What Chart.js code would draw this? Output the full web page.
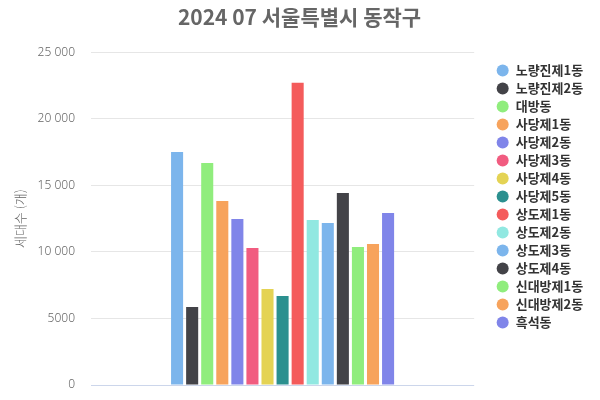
<!DOCTYPE html>
<html>
<head>
<meta charset="utf-8">
<script src="https://cdn.jsdelivr.net/npm/chart.js@4"></script>
<style>
html,body{margin:0;padding:0;background:#fff;}
#wrap{width:600px;height:400px;position:relative;}
</style>
</head>
<body>
<div id="wrap"><canvas id="c" width="600" height="400"></canvas></div>
<script>
const title = '2024 07 서울특별시 동작구';
const yAxisTitle = '세대수 (개)';
const categories = [''];
const seriesNames = ['노량진제1동','노량진제2동','대방동','사당제1동','사당제2동','사당제3동','사당제4동','사당제5동','상도제1동','상도제2동','상도제3동','상도제4동','신대방제1동','신대방제2동','흑석동'];
const seriesValues = [17510, 5860, 16680, 13830, 12470, 10300, 7210, 6690, 22700, 12400, 12170, 14430, 10370, 10600, 12930];
const palette = ['#7cb5ec','#434348','#90ed7d','#f7a35c','#8085e9','#f15c80','#e4d354','#2b908f','#f45b5b','#91e8e1'];
const yTicks = [0, 5000, 10000, 15000, 20000, 25000];

const FONT = "'Noto Sans CJK KR', 'Noto Sans', sans-serif";
Chart.defaults.font.family = FONT;

function fmt(v){
  if (Math.abs(v) < 10000) return String(v);
  return String(v).replace(/\B(?=(\d{3})+(?!\d))/g, ' ');
}

const datasets = seriesNames.map((name, i) => ({
  label: name,
  data: [seriesValues[i]],
  backgroundColor: palette[i % palette.length],
  borderWidth: 0,
  categoryPercentage: 0.59,
  barPercentage: 0.8,
  yAxisID: 'y'
}));

new Chart(document.getElementById('c'), {
  type: 'bar',
  data: { labels: categories, datasets },
  options: {
    responsive: false,
    animation: false,
    devicePixelRatio: 1,
    layout: { padding: { left: 12, right: 13, top: 0, bottom: 15 } },
    plugins: {
      title: {
        display: true,
        text: title,
        color: '#666666',
        font: { size: 21, weight: 'bold', family: FONT },
        padding: { top: 4, bottom: 23 }
      },
      legend: {
        position: 'right',
        align: 'center',
        title: {
          display: true,
          text: ' ',
          font: { size: 5 },
          padding: { top: 1, bottom: 1 }
        },
        labels: {
          usePointStyle: true,
          pointStyle: 'circle',
          boxWidth: 13,
          boxHeight: 8.5,
          padding: 5,
          color: '#333333',
          font: { size: 13, weight: 'bold', family: FONT }
        }
      },
      tooltip: { enabled: false }
    },
    scales: {
      x: {
        display: false,
        grid: { display: false }
      },
      y: {
        min: 0,
        max: 25000,
        afterBuildTicks: (axis) => { axis.ticks = yTicks.map(v => ({ value: v })); },
        afterFit: (scale) => { scale.width = 79; scale.paddingTop = 0; scale.paddingBottom = 0; },
        grid: {
          color: (ctx) => (ctx.tick && ctx.tick.value === 0) ? '#ccd6eb' : '#e6e6e6',
          drawTicks: false
        },
        border: { display: false },
        ticks: {
          color: '#666666',
          font: { size: 12, weight: '300', family: "'Noto Sans', sans-serif" },
          padding: 16,
          callback: (v) => fmt(v)
        },
        title: {
          display: true,
          text: yAxisTitle,
          color: '#666666',
          font: { size: 13, weight: '300', family: FONT },
          padding: { top: 0, bottom: 9 }
        }
      },
      gap: {
        position: 'right',
        display: true,
        grid: { display: false },
        border: { display: false },
        ticks: { display: false },
        afterFit: (scale) => { scale.width = 17; scale.paddingTop = 0; scale.paddingBottom = 0; }
      }
    }
  }
});
</script>
</body>
</html>
